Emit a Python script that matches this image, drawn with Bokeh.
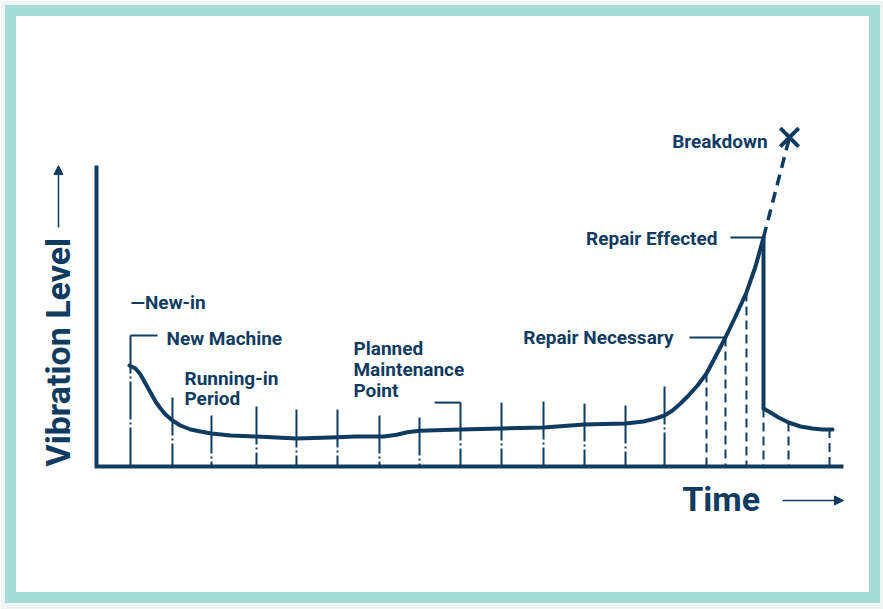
import numpy as np
from bokeh.plotting import figure
from bokeh.models import Range1d, Arrow, NormalHead
from bokeh.core.properties import value
from bokeh.embed import file_html
from bokeh.resources import INLINE

NAVY = "#0f3b61"
TEAL = "#a5dcd6"
PAGE = "#f1f3f3"
FONT = value("Roboto")

# ---- data (time units 0..100, vibration level units 0..100) ----
TIME_MAX = 100.0
LEVEL_MAX = 100.3

curve_time = [4.42, 5.22, 5.89, 6.56, 7.23, 7.90, 8.57, 9.24, 10.17, 11.24, 12.58, 13.92,
              15.39, 17.94, 21.42, 26.77, 31.33, 34.67, 38.5, 40.2, 41.6, 43.24, 48.73, 54.22,
              59.84, 65.33, 70.82, 73.23, 74.83, 76.04, 77.11, 78.18, 79.25, 80.46, 81.66,
              82.87, 84.20, 85.54, 87.01, 88.22, 89.29]
curve_level = [33.67, 32.67, 30.67, 27.67, 24.67, 21.67, 19.33, 17.33, 15.33, 13.67, 12.33, 11.67,
               11.0, 10.33, 10.0, 9.33, 9.67, 10.0, 10.0, 10.6, 11.4, 11.9, 12.33, 12.67,
               13.0, 14.0, 14.33, 15.0, 16.0, 17.0, 18.67, 21.0, 23.67, 27.0, 31.0,
               36.67, 43.0, 50.0, 58.0, 66.67, 76.33]

after_time = [89.29, 90.23, 91.30, 92.64, 94.24, 95.85, 97.19, 98.53]
after_level = [19.33, 18.0, 16.33, 14.67, 13.33, 12.67, 12.33, 12.33]

repair_time = 89.29
repair_peak = 76.33
repair_low = 19.33

breakdown_time = 92.77
breakdown_level = 109.7

tick_time = [4.55, 10.17, 15.39, 21.42, 26.77, 32.26, 37.88, 43.24, 48.73, 54.22,
             59.84, 65.33, 70.82, 76.04]
tick_top = [43.7, 23.0, 17.0, 20.0, 19.0, 19.0, 17.0, 16.3, 21.3, 21.3, 21.7, 21.0, 20.3, 26.7]

dash_time = [81.66, 84.20, 87.01, 89.29, 92.64, 98.13]
dash_top = [31.0, 43.0, 58.0, 19.33, 14.67, 12.5]

labels_left = ["\u2014New-in", "New Machine", "Running-in", "Period",
               "Planned", "Maintenance", "Point"]
labels_left_t = [4.55, 9.37, 11.78, 11.78, 34.40, 34.40, 34.40]
labels_left_v = [54.67, 42.67, 29.33, 22.67, 39.33, 32.33, 25.33]

labels_right = ["Repair Necessary", "Repair Effected", "Breakdown"]
labels_right_t = [77.24, 83.13, 89.83]
labels_right_v = [43.0, 76.0, 108.33]

leader_x0 = [4.55, 45.25, 79.38, 84.87]
leader_x1 = [8.17, 48.73, 84.20, 89.29]
leader_y = [43.7, 21.3, 43.0, 76.33]

p = figure(width=883, height=609, output_backend="svg", toolbar_location=None,
           x_range=Range1d(-11.513, 104.150), y_range=Range1d(-43.667, 152.0),
           min_border_left=10, min_border_right=9, min_border_top=10, min_border_bottom=12,
           border_fill_color=PAGE, background_fill_color="white",
           outline_line_color=TEAL, outline_line_width=11, outline_line_join="miter")
p.axis.visible = False
p.grid.visible = False

# axes
p.line([0, 0, TIME_MAX], [LEVEL_MAX, 0, 0], line_color=NAVY, line_width=4, line_join="miter")

# vertical dash-dot ticks
p.segment(x0=tick_time, y0=tick_top, x1=tick_time, y1=[0] * len(tick_time),
          line_color=NAVY, line_width=2, line_dash="38 3 2 3")
# dashed ticks
p.segment(x0=dash_time, y0=dash_top, x1=dash_time, y1=[0] * len(dash_time),
          line_color=NAVY, line_width=2, line_dash="9 5")

# leaders
p.segment(x0=leader_x0, y0=leader_y, x1=leader_x1, y1=leader_y, line_color=NAVY, line_width=2)

# main curve
p.line(curve_time, curve_level, line_color=NAVY, line_width=4, line_join="round", line_cap="round")
p.line(after_time, after_level, line_color=NAVY, line_width=4, line_join="round", line_cap="round")
p.segment(x0=[repair_time], y0=[repair_peak], x1=[repair_time], y1=[repair_low],
          line_color=NAVY, line_width=4)

# breakdown dashed extension
p.line([repair_time, breakdown_time], [repair_peak, breakdown_level], line_color=NAVY,
       line_width=3.5, line_dash="11 7")
p.scatter([breakdown_time], [breakdown_level], marker="x", size=26, line_color=NAVY, line_width=4)

# annotation texts
p.text(labels_left_t, labels_left_v, text=labels_left, text_font=FONT, text_font_style="bold",
       text_font_size="19px", text_color=NAVY, text_baseline="middle", text_align="left")
p.text(labels_right_t, labels_right_v, text=labels_right, text_font=FONT, text_font_style="bold",
       text_font_size="19px", text_color=NAVY, text_baseline="middle", text_align="right")

# axis titles
p.text([-5.22], [0.0], text=["Vibration Level"], angle=np.pi / 2, text_font=FONT,
       text_font_style="bold", text_font_size="34px", text_color=NAVY,
       text_baseline="middle", text_align="left")
p.text([78.4], [-11.0], text=["Time"], text_font=FONT, text_font_style="bold",
       text_font_size="34px", text_color=NAVY, text_baseline="middle", text_align="left")

# arrows
p.add_layout(Arrow(end=NormalHead(size=9, fill_color=NAVY, line_color=NAVY),
                   x_start=-5.09, y_start=79.7, x_end=-5.09, y_end=100.3,
                   line_color=NAVY, line_width=1.5))
p.add_layout(Arrow(end=NormalHead(size=9, fill_color=NAVY, line_color=NAVY),
                   x_start=91.83, y_start=-11.33, x_end=100.0, y_end=-11.33,
                   line_color=NAVY, line_width=1.5))

open("out.html", "w").write(file_html(p, INLINE))
